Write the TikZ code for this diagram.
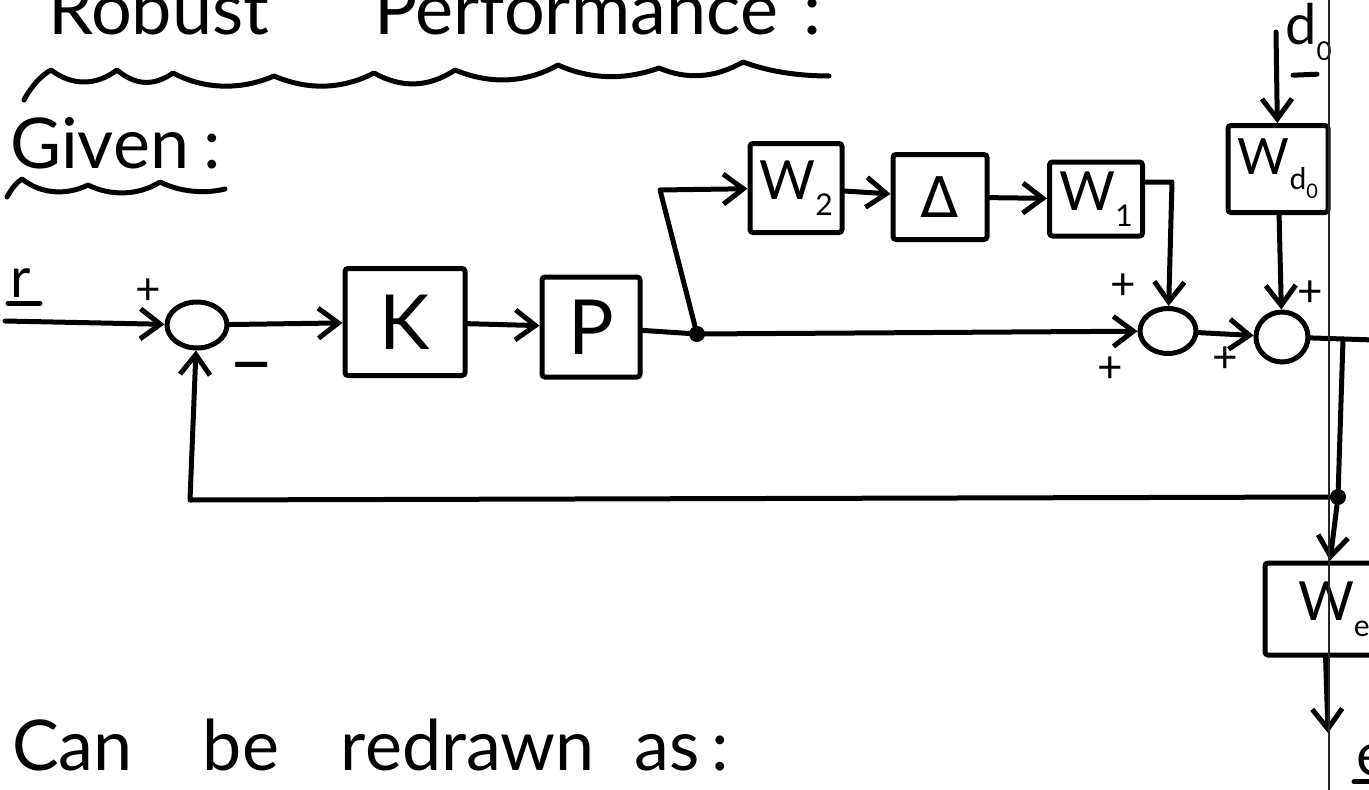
\documentclass[tikz,border=0pt]{standalone}
\usepackage{fontspec}
\setmainfont{Lato}
\newfontfamily\greekface{DejaVu Sans}
\usetikzlibrary{arrows.meta,shapes.geometric}
% lowered index written after a symbol
\newcommand\lowidx[2][30]{\raisebox{-0.3em}{\fontsize{#1}{#1}\selectfont #2}}
\begin{document}
\begin{tikzpicture}[x=1pt,y=-1pt,
  wire/.style={line width=5pt,line cap=round,line join=round},
  sig/.style={wire,-{Straight Barb[length=20pt,width=30pt]}},
  block/.style={draw,line width=5pt,rounded corners=3pt,inner sep=0pt,
    font=\fontsize{76}{76}\selectfont},
  sumnode/.style={draw,ellipse,line width=5pt,inner sep=0pt},
  junction/.style={circle,fill,minimum size=16pt,inner sep=0pt},
  sign/.style={inner sep=0pt,font=\fontsize{44}{44}\selectfont},
  lbl/.style={inner sep=0pt,anchor=base west},
  scallop/.style={line width=5pt,line cap=round,line join=round}
]
\useasboundingbox (0,0) rectangle (1369,790);
\clip (0,0) rectangle (1369,790);

% ---------- headings ----------
\node[lbl,font=\fontsize{72}{72}\selectfont] (title) at (48,34)
  {Robust\hspace{105pt}Performance\hspace{25pt}:};
\draw[scallop] (24,100) .. controls (32,85) and (42,75) .. (51,70)
  .. controls (72,86) and (96,86) .. (117,70)
  .. controls (136,86) and (154,86) .. (173,73)
  .. controls (205,90) and (242,90) .. (274,76)
  .. controls (307,90) and (341,90) .. (374,73)
  .. controls (401,88) and (428,88) .. (455,70)
  .. controls (489,84) and (524,84) .. (558,65)
  .. controls (591,80) and (626,80) .. (659,68)
  .. controls (687,80) and (715,78) .. (743,62)
  .. controls (770,72) and (800,76) .. (829,76);

\node[lbl,font=\fontsize{70}{70}\selectfont] (given) at (10,168) {Given\hspace{14pt}:};
\draw[scallop] (7,197) .. controls (12,188) and (17,182) .. (22,179)
  .. controls (42,195) and (68,195) .. (88,185)
  .. controls (110,196) and (138,196) .. (160,182)
  .. controls (180,192) and (205,194) .. (225,189);

\node[lbl,font=\fontsize{70}{70}\selectfont] (redrawn) at (12,770)
  {Can\hspace{70pt}be\hspace{62pt}redrawn\hspace{40pt}as\,:};

% ---------- blocks ----------
\node[block,minimum width=120pt,minimum height=107pt] (K) at (405,322) {K};
\node[block,minimum width=98pt,minimum height=100pt] (P) at (591,327) {P};
\node[block,minimum width=92pt,minimum height=89pt,font=\fontsize{54}{54}\selectfont]
  (W2) at (796,188) {W\lowidx{2}};
\node[block,minimum width=94pt,minimum height=85pt,font=\greekface\fontsize{56}{56}\selectfont]
  (D) at (940,197) {Δ};
\node[block,minimum width=93pt,minimum height=74pt,font=\fontsize{54}{54}\selectfont]
  (W1) at (1096,199) {W\lowidx{1}};
\node[block,minimum width=100pt,minimum height=87pt,font=\fontsize{50}{50}\selectfont]
  (Wd) at (1278,169) {W\lowidx{d\lowidx[20]{0}}};
\node[block,minimum width=118pt,minimum height=92pt,font=\fontsize{54}{54}\selectfont,
  text width=100pt,align=left] (We) at (1324,609) {\hspace{24pt}W\lowidx{e}};

% ---------- summing junctions ----------
\node[sumnode,minimum width=60pt,minimum height=46pt] (s1) at (197,325) {};
\node[sumnode,minimum width=56pt,minimum height=45pt] (s2) at (1168,331) {};
\node[sumnode,minimum width=52pt,minimum height=50pt] (s3) at (1282,337) {};

\node[junction] (j1) at (697,334) {};
\node[junction] (j2) at (1338,497) {};

% ---------- signal labels ----------
\node[lbl,font=\fontsize{56}{56}\selectfont] (r) at (10,297) {r};
\draw[wire] (r.south west) ++(-2,6) -- ++(32,0);
\node[lbl,font=\fontsize{56}{56}\selectfont] (dl) at (1285,44) {d\lowidx[26]{0}};
\draw[wire] (dl.south west) ++(8,14) -- ++(24,-1);
\node[lbl,font=\fontsize{60}{60}\selectfont] (el) at (1356,775) {e};
\draw[wire] (el.south west) ++(-2,6) -- ++(22,0);

% ---------- corner points ----------
\coordinate (in) at (5,321);
\coordinate (b1) at (660,190);
\coordinate (c1) at (1172,182);
\coordinate (d0) at (1276,32);
\coordinate (oc) at (1343,339);
\coordinate (oe) at (1375,340);
\coordinate (fb) at (190,500);
\coordinate (eo) at (1328,733);

% ---------- connectors ----------
\draw[sig] (in) -- (s1);
\draw[sig] (s1) -- (K);
\draw[sig] (K) -- (P);
\draw[wire] (P) -- (j1);
\draw[sig] (j1) -- (s2);
\draw[sig] (j1) -- (b1) -- (W2);
\draw[sig] (W2) -- (D);
\draw[sig] (D) -- (W1);
\draw[sig] (W1.east |- c1) -- (c1) -- (s2);
\draw[sig] (s2) -- (s3);
\draw[sig] (d0) -- (Wd);
\draw[sig] (Wd) -- (s3);
\draw[wire] (s3) -- (oe);
\draw[wire] (oc) -- (j2);
\draw[sig] (j2) -- (fb) -- (s1);
\draw[sig] (j2) -- (We);
\draw[sig] (We) -- (eo);

% ---------- signs ----------
\node[sign] (p1) at (148,292) {+};
\node[sign,font=\fontsize{80}{80}\selectfont] (m1) at (252,375) {–};
\node[sign] (p2) at (1123,287) {+};
\node[sign] (p3) at (1110,370) {+};
\node[sign] (p4) at (1225,360) {+};
\node[sign] (p5) at (1310,294) {+};

% ---------- sheet edge ----------
\draw[line width=1.2pt,black!85] (1329,0) -- (1329,790);
\end{tikzpicture}
\end{document}
